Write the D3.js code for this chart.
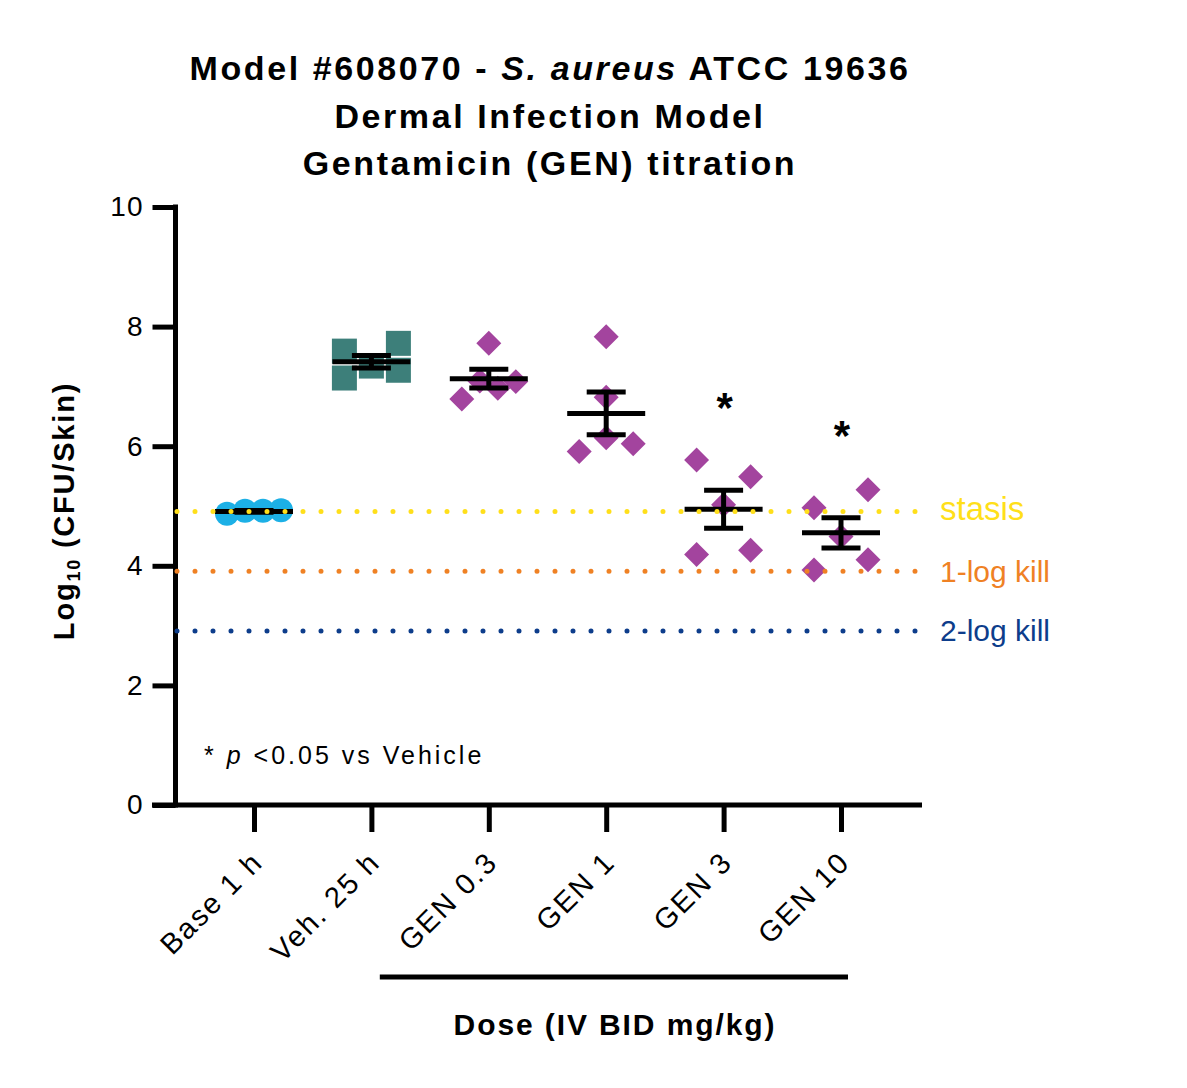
<!DOCTYPE html>
<html lang="en">
<head>
<meta charset="utf-8">
<title>Gentamicin titration</title>
<style>
body{
  margin: 0;
  background: #fff;
}
svg text{
  font-family: "Liberation Sans", Arial, sans-serif;
  fill: #000;
}
</style>
<script src="https://cdn.jsdelivr.net/npm/d3@7"></script>
</head>
<body>
<div id="chart"></div>

<script>
// groups on the x axis, left to right
var categories = ["Base 1 h", "Veh. 25 h", "GEN 0.3", "GEN 1", "GEN 3", "GEN 10"];

// individual animals, log10 CFU per skin
var baseValues  = [4.87, 4.92, 4.92, 4.93];
var vehValues   = [7.14, 7.34, 7.27, 7.59, 7.72];
var gen03Values = [6.79, 7.09, 6.97, 7.08, 7.72];
var gen1Values  = [5.91, 6.14, 6.04, 6.82, 7.83];
var gen3Values  = [4.19, 4.26, 5.02, 5.77, 5.49];
var gen10Values = [3.93, 4.10, 4.49, 4.97, 5.27];

var significant = ["GEN 3", "GEN 10"];   // p < 0.05 vs vehicle
var doseGroups  = ["GEN 0.3", "GEN 1", "GEN 3", "GEN 10"];

var yTicks = [0, 2, 4, 6, 8, 10];

// reference lines: logs below the baseline mean
var killLogs   = [0, 1, 2];
var killLabels = ["stasis", "1-log kill", "2-log kill"];
var killColors = ["#ffdf1a", "#ef8124", "#0d3d8b"];

var groups = [
  { name: categories[0], values: baseValues,  shape: "circle",  color: "#1cb0e6" },
  { name: categories[1], values: vehValues,   shape: "square",  color: "#3d7f7a" },
  { name: categories[2], values: gen03Values, shape: "diamond", color: "#a3449e" },
  { name: categories[3], values: gen1Values,  shape: "diamond", color: "#a3449e" },
  { name: categories[4], values: gen3Values,  shape: "diamond", color: "#a3449e" },
  { name: categories[5], values: gen10Values, shape: "diamond", color: "#a3449e" }
];

var width = 1187, height = 1088;

var y = d3.scaleLinear().domain([0, 10]).range([805, 207]);
var x = d3.scalePoint().domain(categories).range([254, 841]);

var svg = d3.select('#chart')
  .append('svg')
  .attr('width', width)
  .attr('height', height);

/* title */
var title = svg.append('text')
  .attr('text-anchor', 'middle')
  .style('font-size', '34px')
  .style('font-weight', 'bold')
  .style('letter-spacing', '2.6px');
var t1 = title.append('tspan').attr('x', 550).attr('y', 80);
t1.append('tspan').text('Model #608070 - ');
t1.append('tspan').style('font-style', 'italic').text('S. aureus');
t1.append('tspan').text(' ATCC 19636');
title.append('tspan').attr('x', 550).attr('y', 128).text('Dermal Infection Model');
title.append('tspan').attr('x', 550).attr('y', 175).text('Gentamicin (GEN) titration');

/* spread points that sit at similar heights side by side, like a column scatter */
function swarm(values, threshold, halfWidth) {
  var order = d3.range(values.length).sort(function(a, b) { return values[a] - values[b]; });
  var rows = [];
  order.forEach(function(i) {
    var row = rows[rows.length - 1];
    if (row && values[i] - values[row[0]] < threshold) row.push(i);
    else rows.push([i]);
  });
  var offsets = [];
  rows.forEach(function(row) {
    row.sort(function(a, b) { return a - b; });
    row.forEach(function(i, k) {
      offsets[i] = row.length === 1 ? 0 : -halfWidth + 2 * halfWidth * k / (row.length - 1);
    });
  });
  return offsets;
}

var symbolSize = { circle: 452, square: 625, diamond: 312 };
var symbolType = { circle: d3.symbolCircle, square: d3.symbolSquare, diamond: d3.symbolSquare };

var plot = svg.append('g');

groups.forEach(function(g) {
  var offs = swarm(g.values, 0.42, 27);
  var cx = x(g.name);
  plot.selectAll(null)
    .data(g.values)
    .enter()
    .append('path')
    .attr('d', d3.symbol().type(symbolType[g.shape]).size(symbolSize[g.shape]))
    .attr('transform', function(d, i) {
      return 'translate(' + (cx + offs[i]) + ',' + y(d) + ')' + (g.shape === 'diamond' ? ' rotate(45)' : '');
    })
    .style('fill', g.color);
});

/* mean and SEM */
groups.forEach(function(g) {
  var m = d3.mean(g.values);
  var sem = d3.deviation(g.values) / Math.sqrt(g.values.length);
  g.mean = m; g.sem = sem;
  var cx = x(g.name);
  var bars = plot.append('g').style('stroke', '#000').style('stroke-width', 5);
  bars.append('line').attr('x1', cx).attr('x2', cx).attr('y1', y(m + sem)).attr('y2', y(m - sem));
  bars.append('line').attr('x1', cx - 19.5).attr('x2', cx + 19.5).attr('y1', y(m + sem)).attr('y2', y(m + sem));
  bars.append('line').attr('x1', cx - 19.5).attr('x2', cx + 19.5).attr('y1', y(m - sem)).attr('y2', y(m - sem));
  bars.append('line').attr('x1', cx - 39).attr('x2', cx + 39).attr('y1', y(m)).attr('y2', y(m));
});

/* significance stars */
groups.filter(function(g) { return significant.indexOf(g.name) >= 0; }).forEach(function(g) {
  svg.append('text')
    .attr('x', x(g.name) + 1)
    .attr('y', y(g.mean + g.sem) - 90 + 22)
    .attr('text-anchor', 'middle')
    .style('font-size', '42px')
    .style('font-weight', 'bold')
    .text('*');
});

/* axes */
var yAxis = svg.append('g')
  .attr('transform', 'translate(175.5,0)')
  .call(d3.axisLeft(y).tickValues(yTicks).tickSize(23).tickSizeOuter(0).tickPadding(9));
yAxis.select('.domain').style('stroke-width', 5).attr('d', 'M0,' + (y(0) + 2.5) + 'V' + (y(10) - 2.5));
yAxis.selectAll('.tick line').style('stroke-width', 5);
yAxis.selectAll('.tick text')
  .attr('font-family', null)
  .style('font-size', '28px')
  .style('letter-spacing', '1px');

svg.append('line')
  .attr('x1', 152).attr('x2', 922)
  .attr('y1', y(0)).attr('y2', y(0))
  .style('stroke', '#000').style('stroke-width', 5);

var xAxis = svg.append('g')
  .attr('transform', 'translate(0,' + y(0) + ')')
  .call(d3.axisBottom(x).tickSize(27).tickSizeOuter(0));
xAxis.select('.domain').remove();
xAxis.selectAll('.tick line').style('stroke-width', 5);
xAxis.selectAll('.tick text')
  .attr('font-family', null)
  .style('font-size', '29px')
  .style('letter-spacing', '2px')
  .attr('text-anchor', 'end')
  .attr('x', 0).attr('y', 0).attr('dy', null)
  .attr('transform', 'translate(10,59) rotate(-45)');

/* bracket under the dose groups */
svg.append('line')
  .attr('x1', x(doseGroups[0]) - 109)
  .attr('x2', x(doseGroups[doseGroups.length - 1]) + 7)
  .attr('y1', 977).attr('y2', 977)
  .style('stroke', '#000').style('stroke-width', 5);

svg.append('text')
  .attr('x', 615).attr('y', 1035)
  .attr('text-anchor', 'middle')
  .style('font-size', '30px')
  .style('font-weight', 'bold')
  .style('letter-spacing', '1.9px')
  .text('Dose (IV BID mg/kg)');

/* y title */
var yt = svg.append('text')
  .attr('transform', 'translate(74,511) rotate(-90)')
  .attr('text-anchor', 'middle')
  .style('font-size', '29px')
  .style('font-weight', 'bold')
  .style('letter-spacing', '1.8px');
yt.append('tspan').text('Log');
yt.append('tspan').attr('dy', 6).style('font-size', '18px').text('10');
yt.append('tspan').attr('dy', -6).text(' (CFU/Skin)');

/* footnote */
var note = svg.append('text')
  .attr('x', 204).attr('y', 764)
  .style('font-size', '25px')
  .style('letter-spacing', '3px');
note.append('tspan').text('* ');
note.append('tspan').style('font-style', 'italic').text('p');
note.append('tspan').text(' <0.05 vs Vehicle');

/* stasis / kill lines drawn on top */
var baseMean = d3.mean(baseValues);
killLogs.forEach(function(k, i) {
  var ly = y(baseMean - k);
  svg.append('line')
    .attr('x1', 177).attr('x2', 922)
    .attr('y1', ly).attr('y2', ly)
    .style('stroke', killColors[i])
    .style('stroke-width', 5)
    .style('stroke-linecap', 'round')
    .style('stroke-dasharray', '0 18');
  svg.append('text')
    .attr('x', 940).attr('y', ly)
    .attr('dy', k === 0 ? '0.25em' : '0.35em')
    .style('font-size', k === 0 ? '33px' : '30px')
    .style('fill', killColors[i])
    .text(killLabels[i]);
});
</script>
</body>
</html>
